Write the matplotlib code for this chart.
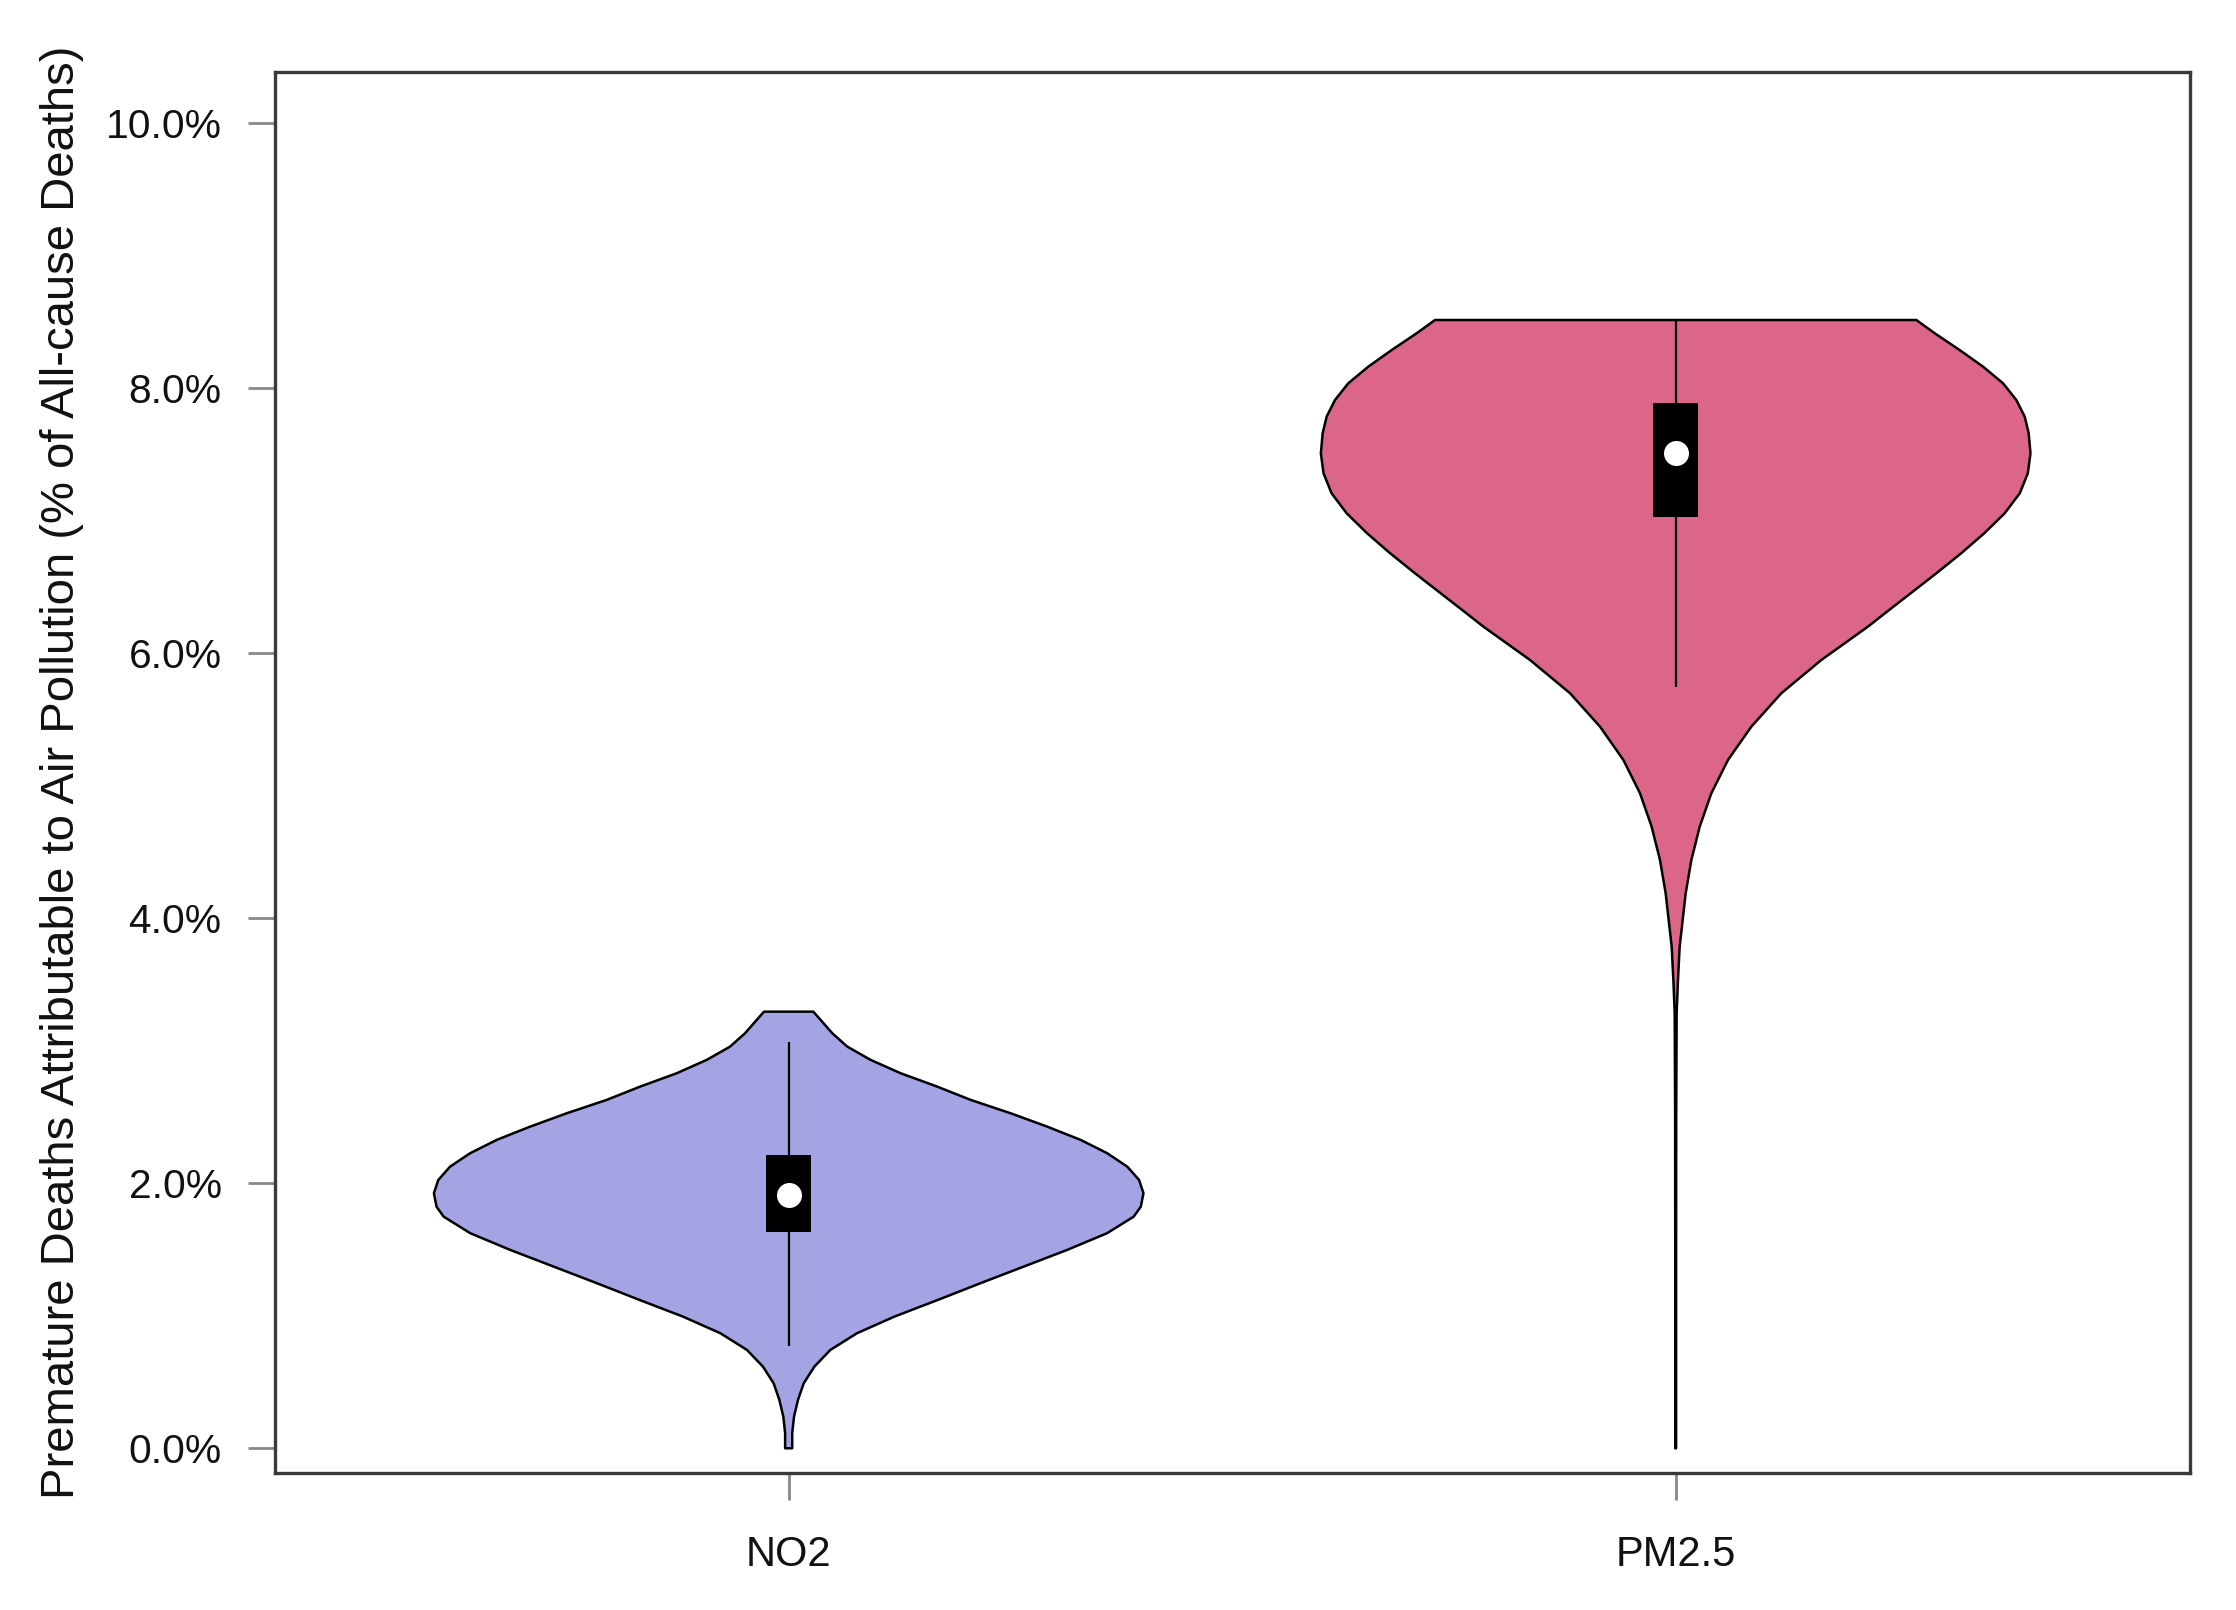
import matplotlib
matplotlib.use("Agg")
import matplotlib.pyplot as plt
import numpy as np

plt.rcParams['font.family'] = ['Liberation Sans', 'DejaVu Sans']

# ---- data ----
categories = ["NO2", "PM2.5"]
positions = [1, 2]
fill_colors = ["#A4A4E4", "#DC6688"]

# violin outlines: value (%) and half-width (x units)
no2_y = [0.0, 0.113, 0.238, 0.365, 0.491, 0.616, 0.742, 0.868, 0.993, 1.119,
         1.245, 1.371, 1.497, 1.623, 1.748, 1.823, 1.925, 2.025, 2.125, 2.226,
         2.327, 2.427, 2.528, 2.629, 2.729, 2.830, 2.931, 3.031, 3.132, 3.232,
         3.295]
no2_hw = [0.004, 0.004, 0.006, 0.0105, 0.017, 0.029, 0.047, 0.077, 0.119, 0.168,
          0.216, 0.265, 0.314, 0.359, 0.389, 0.397, 0.400, 0.395, 0.3818, 0.3593,
          0.3292, 0.2916, 0.2503, 0.2052, 0.1676, 0.1263, 0.0924, 0.0661, 0.0492,
          0.0361, 0.0278]

pm25_y = [0.0, 0.5, 1.5, 2.5, 3.283, 3.534, 3.786, 3.987, 4.189, 4.440, 4.691,
          4.943, 5.195, 5.446, 5.698, 5.949, 6.201, 6.302, 6.453, 6.604, 6.755,
          6.906, 7.057, 7.208, 7.358, 7.509, 7.660, 7.786, 7.912, 8.038, 8.163,
          8.289, 8.415, 8.515]
pm25_hw = [0.0005, 0.0005, 0.0005, 0.0006, 0.0011, 0.0026, 0.0045, 0.0079, 0.0113,
           0.0177, 0.0271, 0.0402, 0.059, 0.0853, 0.1191, 0.1642, 0.2168, 0.236,
           0.265, 0.294, 0.322, 0.348, 0.371, 0.388, 0.397, 0.400, 0.398, 0.3935,
           0.384, 0.369, 0.3465, 0.320, 0.292, 0.2713]

# box statistics (%)
q1 = [1.631, 7.026]
q3 = [2.212, 7.891]
medians = [1.910, 7.514]
whisker_lo = [0.772, 5.743]
whisker_hi = [3.067, 8.515]

yticks = [0, 2, 4, 6, 8, 10]
ytick_labels = ["0.0%", "2.0%", "4.0%", "6.0%", "8.0%", "10.0%"]
ylabel = "Premature Deaths Attributable to Air Pollution (% of All-cause Deaths)"

# ---- figure ----
fig = plt.figure(figsize=(11.18, 8.05), dpi=200)
ax = fig.add_axes([0.12299, 0.08491, 0.97929 - 0.12299, 0.95547 - 0.08491])

shapes = [(no2_y, no2_hw), (pm25_y, pm25_hw)]
for pos, (ys, hws), col in zip(positions, shapes, fill_colors):
    ys = np.asarray(ys)
    hws = np.asarray(hws)
    xs = np.concatenate([pos - hws, (pos + hws)[::-1]])
    yy = np.concatenate([ys, ys[::-1]])
    ax.fill(xs, yy, facecolor=col, edgecolor="black", linewidth=0.9,
            joinstyle="round", zorder=2)

ax.vlines(positions, whisker_lo, whisker_hi, color="black", linewidth=0.8, zorder=3)
ax.bar(positions, np.array(q3) - np.array(q1), bottom=q1, width=0.051,
       color="black", edgecolor="black", linewidth=0, zorder=4)
ax.plot(positions, medians, "o", color="white", markersize=8,
        markeredgecolor="white", zorder=5, linestyle="none")

ax.set_xlim(0.4209, 2.5795)
ax.set_ylim(-0.189, 10.389)

ax.set_yticks(yticks)
ax.set_yticklabels(ytick_labels)
ax.set_xticks(positions)
ax.set_xticklabels(categories)

ax.tick_params(axis="y", direction="out", length=9.7, width=1.0, color="#888888",
               pad=9.5, labelsize=14.7, labelcolor="#111111")
ax.tick_params(axis="x", direction="out", length=9.7, width=1.0, color="#888888",
               pad=12.5, labelsize=15.0, labelcolor="#111111")

for sp in ax.spines.values():
    sp.set_color("#3a3a3a")
    sp.set_linewidth(1.2)

ax.set_ylabel(ylabel, fontsize=17, color="#111111")
ax.yaxis.set_label_coords(-0.0998, 0.5)

fig.savefig("out.png", dpi=200)
